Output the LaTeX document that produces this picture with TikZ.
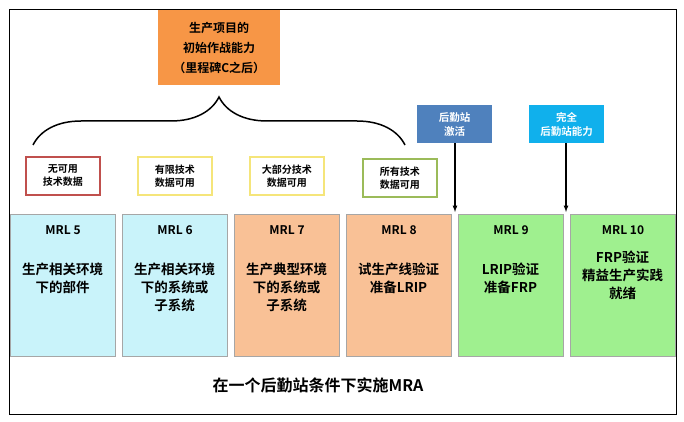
\documentclass[tikz,border=0pt]{standalone}
\usepackage{fontspec}
\setmainfont{Noto Sans CJK SC}[BoldFont={* Bold}]
\usetikzlibrary{positioning,decorations.pathreplacing}
\definecolor{lcyan}{HTML}{C9F3FA}
\definecolor{lpeach}{HTML}{F9C196}
\definecolor{lgreen}{HTML}{9FF08F}
\definecolor{dorange}{HTML}{F79646}
\definecolor{dblue}{HTML}{4F81BD}
\definecolor{scyan}{HTML}{10B0EC}
\definecolor{tagred}{HTML}{C0504D}
\definecolor{tagyel}{HTML}{F5E57A}
\definecolor{taggrn}{HTML}{9BBB59}
\tikzset{
  mrl/.style={draw=gray!70, line width=1pt, minimum width=105pt, minimum height=142pt, anchor=north west, inner sep=0pt},
  mrltitle/.style={font=\bfseries\fontsize{12}{14}\selectfont, below=11pt, inner sep=0pt},
  mrlbody/.style={font=\bfseries\fontsize{13.5}{18}\selectfont, align=center, inner sep=0pt},
  tag/.style={draw=#1, line width=1.5pt, fill=white, minimum width=74pt, minimum height=38pt, anchor=north west, align=center, font=\bfseries\fontsize{10}{13}\selectfont, inner sep=0pt},
  flag/.style={fill=#1, text=white, minimum width=75pt, minimum height=38pt, anchor=north west, align=center, font=\bfseries\fontsize{10.5}{14}\selectfont, inner sep=0pt}
}
\begin{document}
\begin{tikzpicture}[x=1pt,y=-1pt]
\useasboundingbox (0,0) rectangle (684,422);
\draw[line width=1pt] (9,10) rectangle (676,414);

\node[fill=dorange, minimum width=122pt, minimum height=75pt, anchor=north west, align=center, font=\bfseries\fontsize{12}{20}\selectfont] (ioc) at (158,10) {生产项目的\\初始作战能力\\（里程碑C之后）};
\draw[decorate, decoration={brace, amplitude=48pt}, line width=1.5pt] (33,145) -- (405,145);

\node[tag=tagred] (t5) at (25,156) {无可用\\技术数据};
\node[tag=tagyel] (t6) at (137,156) {有限技术\\数据可用};
\node[tag=tagyel] (t7) at (249,156) {大部分技术\\数据可用};
\node[tag=taggrn] (t8) at (362,158) {所有技术\\数据可用};

\node[flag=dblue] (act) at (417,105) {后勤站\\激活};
\node[flag=scyan] (full) at (529,105) {完全\\后勤站能力};

\node[mrl, fill=lcyan] (m5) at (10,214) {};
\node[mrl, fill=lcyan] (m6) at (122,214) {};
\node[mrl, fill=lpeach] (m7) at (234,214) {};
\node[mrl, fill=lpeach] (m8) at (346,214) {};
\node[mrl, fill=lgreen] (m9) at (458,214) {};
\node[mrl, fill=lgreen] (m10) at (570,214) {};

\foreach \n/\t in {m5/{MRL 5}, m6/{MRL 6}, m7/{MRL 7}, m8/{MRL 8}, m9/{MRL 9}, m10/{MRL 10}}
  \node[mrltitle] at (\n.north) {\t};

\node[mrlbody] (b5) at (62.5,278) {生产相关环境\\下的部件};
\node[mrlbody] (b6) at (174.5,287) {生产相关环境\\下的系统或\\子系统};
\node[mrlbody] (b7) at (286.5,287) {生产典型环境\\下的系统或\\子系统};
\node[mrlbody] (b8) at (398.5,278) {试生产线验证\\准备LRIP};
\node[mrlbody] (b9) at (510.5,278) {LRIP验证\\准备FRP};
\node[mrlbody] (b10) at (622.5,275) {FRP验证\\精益生产实践\\就绪};

\draw[-latex, line width=1.2pt] (act.south -| 455,0) -- (455,212);
\draw[-latex, line width=1.2pt] (full.south -| 566,0) -- (566,212);

\node[font=\bfseries\fontsize{16}{18}\selectfont] (mra) at (318,385) {在一个后勤站条件下实施MRA};
\end{tikzpicture}
\end{document}
